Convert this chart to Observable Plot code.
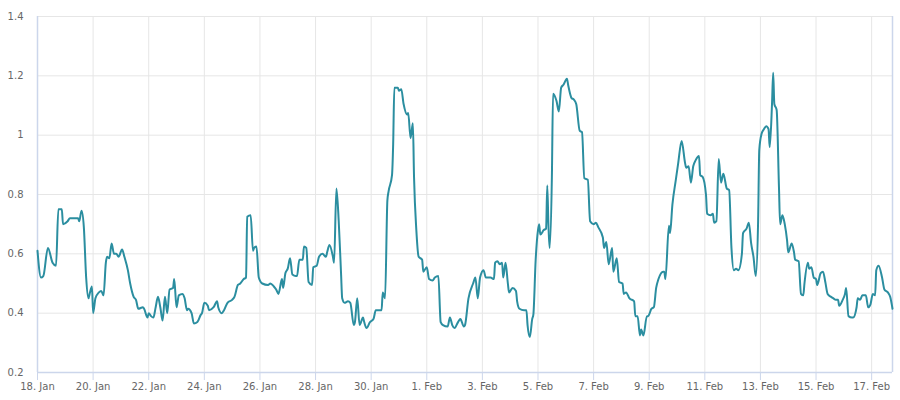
<!DOCTYPE html>
<html>
<head>
<meta charset="utf-8">
<script src="https://cdn.jsdelivr.net/npm/d3@7"></script>
<script src="https://cdn.jsdelivr.net/npm/@observablehq/plot@0.6"></script>
<style>
  html, body { margin: 0; padding: 0; background: #ffffff; }
  #chart { width: 900px; height: 400px; }
</style>
</head>
<body>
<div id="chart"></div>
<script>
// Series start (UTC) and readings: hours since start, value
const startDate = "2018-01-18T00:00:00Z";

const hours = [
  0, 3, 5, 9, 13, 16, 18, 21, 22, 26, 28, 35, 36, 38, 40, 42, 44, 45, 47, 48,
  50, 53, 55, 57, 59, 60, 62, 64, 66, 68, 70, 73, 75, 78, 80, 83, 85, 87, 91, 92,
  95, 96, 98, 100, 102, 104, 106, 108, 110, 112, 114, 117, 118, 120, 122, 125, 127, 129, 130, 133,
  135, 138, 141, 142, 144, 147, 148, 152, 155, 156, 159, 161, 164, 168, 170, 173, 175, 178, 180, 181,
  184, 186, 187, 189, 191, 194, 199, 201, 204, 206, 208, 211, 212, 214, 216, 218, 220, 223, 224, 226,
  229, 230, 232, 234, 237, 238, 241, 243, 246, 249, 250, 252, 255, 256, 258, 260, 262, 263, 265, 268,
  270, 273, 274, 276, 278, 281, 282, 284, 287, 290, 292, 294, 297, 298, 300, 302, 303, 306, 307, 308,
  311, 312, 314, 316, 319, 320, 322, 324, 325, 327, 329, 332, 333, 336, 338, 341, 343, 346, 348, 350,
  354, 356, 358, 360, 363, 365, 368, 369, 372, 376, 378, 380, 382, 385, 387, 391, 394, 395, 397, 399,
  401, 402, 404, 406, 407, 410, 413, 414, 416, 420, 422, 423, 425, 427, 428, 430, 432, 433, 434, 437,
  439, 440, 441, 442, 444, 445, 448, 450, 452, 454, 457, 458, 461, 463, 465, 468, 470, 472, 475, 477,
  480, 482, 484, 488, 489, 491, 493, 496, 497, 500, 502, 505, 506, 508, 511, 515, 516, 518, 520, 521,
  523, 526, 527, 530, 532, 534, 536, 540, 541, 542, 545, 546, 548, 551, 553, 556, 559, 560, 562, 564,
  566, 568, 571, 572, 574, 577, 578, 581, 583, 584, 586, 588, 590, 592, 595, 597, 599, 601, 603, 605,
  608, 609, 612, 614, 616, 618, 620, 622, 623, 625, 627, 629, 631, 632, 634, 635, 636, 638, 640, 641,
  643, 645, 647, 648, 651, 653, 654, 657, 659, 661, 662, 665, 666, 668, 670, 672, 673, 676, 678, 680,
  682, 685, 687, 689, 691, 692, 695, 697, 698, 700, 703, 704, 707, 708, 710, 712, 715, 717, 719, 721,
  723, 724, 726, 729, 731, 734, 736, 738
];

const values = [
  0.61, 0.52, 0.525, 0.62, 0.57, 0.56, 0.75, 0.75, 0.70, 0.71, 0.72, 0.72, 0.71, 0.745, 0.69, 0.52, 0.45, 0.465, 0.49, 0.40,
  0.45, 0.47, 0.475, 0.46, 0.57, 0.59, 0.585, 0.635, 0.60, 0.60, 0.59, 0.615, 0.59, 0.545, 0.50, 0.455, 0.445, 0.415, 0.42, 0.415,
  0.385, 0.40, 0.39, 0.385, 0.42, 0.455, 0.42, 0.375, 0.455, 0.40, 0.48, 0.485, 0.515, 0.42, 0.46, 0.465, 0.45, 0.41, 0.415, 0.40,
  0.365, 0.37, 0.395, 0.40, 0.435, 0.425, 0.41, 0.42, 0.44, 0.42, 0.40, 0.41, 0.435, 0.445, 0.455, 0.495, 0.50, 0.515, 0.52, 0.725,
  0.73, 0.61, 0.62, 0.625, 0.52, 0.50, 0.495, 0.50, 0.49, 0.48, 0.465, 0.515, 0.485, 0.535, 0.55, 0.585, 0.53, 0.525, 0.525, 0.58,
  0.58, 0.625, 0.62, 0.505, 0.495, 0.555, 0.56, 0.59, 0.60, 0.59, 0.605, 0.63, 0.59, 0.57, 0.82, 0.71, 0.535, 0.45, 0.435, 0.44,
  0.435, 0.36, 0.37, 0.45, 0.36, 0.385, 0.37, 0.35, 0.37, 0.38, 0.41, 0.41, 0.41, 0.47, 0.45, 0.78, 0.81, 0.865, 0.97, 1.16,
  1.16, 1.15, 1.155, 1.105, 1.07, 1.075, 0.99, 1.04, 0.86, 0.68, 0.59, 0.58, 0.54, 0.555, 0.515, 0.51, 0.52, 0.525, 0.37, 0.36,
  0.355, 0.385, 0.36, 0.35, 0.37, 0.38, 0.355, 0.36, 0.45, 0.50, 0.52, 0.45, 0.52, 0.545, 0.52, 0.52, 0.515, 0.57, 0.575, 0.565,
  0.57, 0.52, 0.57, 0.50, 0.47, 0.485, 0.475, 0.44, 0.415, 0.41, 0.41, 0.36, 0.32, 0.38, 0.395, 0.58, 0.68, 0.70, 0.665, 0.68,
  0.685, 0.83, 0.70, 0.62, 0.86, 1.14, 1.115, 1.08, 1.16, 1.17, 1.19, 1.17, 1.125, 1.12, 1.105, 1.015, 1.01, 0.855, 0.85, 0.71,
  0.70, 0.705, 0.69, 0.655, 0.62, 0.64, 0.565, 0.62, 0.54, 0.585, 0.505, 0.50, 0.465, 0.47, 0.45, 0.44, 0.39, 0.39, 0.325, 0.345,
  0.325, 0.39, 0.39, 0.415, 0.42, 0.485, 0.515, 0.54, 0.54, 0.515, 0.695, 0.67, 0.765, 0.85, 0.905, 0.98, 0.905, 0.89, 0.895, 0.84,
  0.895, 0.915, 0.93, 0.865, 0.86, 0.80, 0.735, 0.73, 0.735, 0.705, 0.71, 0.92, 0.84, 0.87, 0.82, 0.815, 0.62, 0.545, 0.55, 0.545,
  0.60, 0.67, 0.685, 0.705, 0.635, 0.59, 0.525, 0.71, 0.95, 1.005, 1.02, 1.03, 1.02, 0.96, 1.105, 1.21, 1.105, 1.085, 0.825, 0.70,
  0.73, 0.70, 0.645, 0.605, 0.635, 0.605, 0.58, 0.575, 0.465, 0.46, 0.50, 0.57, 0.55, 0.555, 0.52, 0.515, 0.495, 0.535, 0.54, 0.505,
  0.465, 0.455, 0.45, 0.445, 0.445, 0.425, 0.445, 0.465, 0.485, 0.39, 0.385, 0.385, 0.42, 0.45, 0.445, 0.46, 0.46, 0.42, 0.43, 0.465,
  0.46, 0.545, 0.56, 0.52, 0.48, 0.47, 0.455, 0.415
];

const xTickDates = [
  "2018-01-18", "2018-01-20", "2018-01-22", "2018-01-24", "2018-01-26", "2018-01-28", "2018-01-30",
  "2018-02-01", "2018-02-03", "2018-02-05", "2018-02-07", "2018-02-09", "2018-02-11", "2018-02-13",
  "2018-02-15", "2018-02-17"
];
const yTicks = [0.2, 0.4, 0.6, 0.8, 1, 1.2, 1.4];

const t0 = new Date(startDate).getTime();
const data = hours.map((h, i) => ({ t: new Date(t0 + h * 3600e3), v: values[i] }));
const xTicks = xTickDates.map(d => new Date(d + "T00:00:00Z"));
const xDomain = [data[0].t, data[data.length - 1].t];
const fmt = d3.utcFormat("%-d. %b");

const chart = Plot.plot({
  width: 900,
  height: 400,
  marginLeft: 37,
  marginRight: 8,
  marginTop: 16,
  marginBottom: 28,
  style: { fontFamily: "'DejaVu Sans', sans-serif", fontSize: "10px", background: "#ffffff" },
  x: { type: "utc", domain: xDomain, label: null },
  y: { domain: [0.2, 1.4], label: null },
  marks: [
    Plot.gridY(yTicks, { stroke: "#e6e6e6", strokeOpacity: 1 }),
    Plot.gridX(xTicks, { stroke: "#e6e6e6", strokeOpacity: 1 }),
    Plot.ruleX([xDomain[0], xDomain[1]], { stroke: "#ccd6eb", strokeWidth: 1.5 }),
    Plot.ruleY([0.2], { stroke: "#ccd6eb", strokeWidth: 1.5 }),
    Plot.axisX(xTicks, { tickSize: 8, tickPadding: 2, stroke: "#ccd6eb", fill: "#666666", tickFormat: fmt, fontSize: 10, label: null }),
    Plot.axisY(yTicks, { tickSize: 0, tickPadding: 14, fill: "#666666", tickFormat: d => String(d), fontSize: 10, label: null }),
    Plot.line(data, { x: "t", y: "v", stroke: "#2b8ea0", strokeWidth: 2, curve: "monotone-x" })
  ]
});
document.getElementById("chart").appendChild(chart);
</script>
</body>
</html>
